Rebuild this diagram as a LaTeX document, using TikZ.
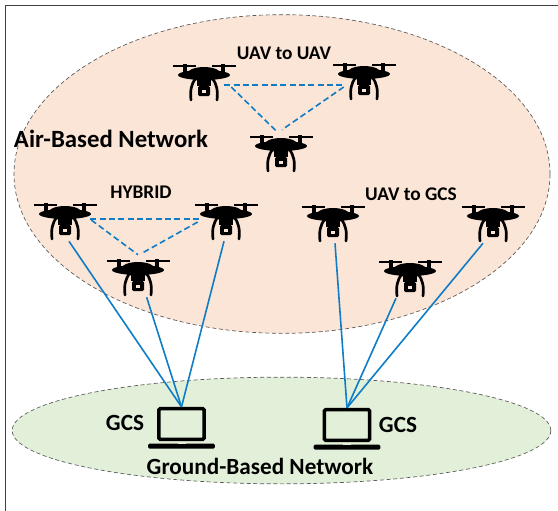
\documentclass[tikz,border=0pt]{standalone}
\usepackage{fontspec}
\setmainfont{Carlito}
\usepackage{xcolor}
\usetikzlibrary{shapes,positioning}
\definecolor{airfill}{HTML}{FBE5D6}
\definecolor{groundfill}{HTML}{E2F0D9}
\definecolor{linkblue}{HTML}{0F7DC6}
\tikzset{
  dronepic/.pic={
    \draw[line width=1.6pt] (-31,-9) -- (-8,-9) (8,-9) -- (32,-9);
    \draw[line width=2.4pt] (-19,-13) -- (-19,-2) (19,-13) -- (19,-2);
    \fill (0,0) ellipse [x radius=26, y radius=5];
    \fill (0,-1) ellipse [x radius=17, y radius=7];
    \fill (-7,0) rectangle (7,11);
    \draw[line width=2pt, line cap=round] (-8,3) .. controls (-13,9) and (-14,16) .. (-13,25);
    \draw[line width=2pt, line cap=round] (8,3) .. controls (13,9) and (14,16) .. (13,25);
    \fill[rounded corners=1pt] (-6,11) rectangle (6,21);
    \fill[airfill] (-2,14.5) rectangle (2,17.5);
  }
}
\tikzstyle{drone} = [rectangle, inner sep=0, minimum width=51pt, minimum height=28.5pt,
    path picture={\pic at ([yshift=6pt]path picture bounding box.center) {dronepic};}]
\tikzstyle{net} = [draw=black!65, ellipse, densely dashed, line width=0.5pt, inner sep=0]
\tikzstyle{screen} = [draw, rectangle, rounded corners=1pt, line width=2.7pt, inner sep=0,
    minimum width=34pt, minimum height=23pt]
\tikzstyle{lapbase} = [fill, rectangle, rounded corners=1pt, inner sep=0, minimum width=50pt, minimum height=3.8pt]
\tikzstyle{notch} = [fill=groundfill, rectangle, inner sep=0, minimum width=6pt, minimum height=1pt]
\tikzstyle{peer} = [draw=linkblue, line width=1.2pt, dash pattern=on 4.5pt off 2.5pt]
\tikzstyle{uplink} = [draw=linkblue, line width=1.2pt]
\tikzstyle{title} = [font=\fontsize{18.6}{20}\selectfont\bfseries, inner sep=0]
\tikzstyle{bigtag} = [font=\fontsize{17.4}{19}\selectfont\bfseries, inner sep=0]
\tikzstyle{tag} = [font=\fontsize{14.5}{16}\selectfont\bfseries, inner sep=0]

\begin{document}
\begin{tikzpicture}[x=0.75pt, y=-0.75pt]
	\useasboundingbox (0,0) rectangle (558,511);
	\draw[black!75, line width=0.9pt] (5.5,511) -- (5.5,5.5) -- (558,5.5);

	\node[net, fill=airfill, minimum width=402pt, minimum height=239pt] (air) at (282,174) {};
	\node[net, fill=groundfill, minimum width=404pt, minimum height=80pt] (ground) at (281.5,430.5) {};

	% air side
	\node[drone] (uavA) at (204,83) {};
	\node[drone] (uavB) at (364,82) {};
	\node[drone] (uavC) at (281,154) {};
	\node[drone] (hybA) at (65,222) {};
	\node[drone] (hybB) at (226,222) {};
	\node[drone] (hybC) at (138,278) {};
	\node[drone] (gcsA) at (333,224) {};
	\node[drone] (gcsB) at (410,279) {};
	\node[drone] (gcsC) at (493,224) {};

	% ground stations
	\node[screen] (lapL) at (181.5,424) {};
	\node[lapbase, below=1.6pt of lapL] (baseL) {};
	\node[notch] (notchL) at (baseL.north) {};
	\node[screen] (lapR) at (347,425) {};
	\node[lapbase, below=1.6pt of lapR] (baseR) {};
	\node[notch] (notchR) at (baseR.north) {};

	\draw[peer] ([shift={(-14,2)}]uavA.east) -- ([shift={(14,3)}]uavB.west);
	\draw[peer] ([shift={(-7,4)}]uavA.east) -- ([shift={(-4,-3)}]uavC.north);
	\draw[peer] ([shift={(14,5)}]uavB.west) -- ([shift={(1,-5)}]uavC.north);
	\draw[peer] ([shift={(-9,-3)}]hybA.east) -- ([shift={(9,-3)}]hybB.west);
	\draw[peer] ([shift={(-8,-2)}]hybA.east) -- ([shift={(0,-4)}]hybC.north);
	\draw[peer] ([shift={(6,0)}]hybB.west) -- ([shift={(3,-5)}]hybC.north);

	\draw[uplink] ([xshift=3pt]hybA.south) -- (lapL.north);
	\draw[uplink] ([xshift=6.5pt]hybC.south) -- (lapL.north);
	\draw[uplink] ([xshift=-1.5pt]hybB.south) -- (lapL.north);
	\draw[uplink] ([xshift=1.5pt]gcsA.south) -- (lapR.north);
	\draw[uplink] ([xshift=-10.5pt]gcsB.south) -- (lapR.north);
	\draw[uplink] ([xshift=-7.5pt]gcsC.south) -- (lapR.north);

	\node[title] (airlabel) at (111,139) {Air-Based Network};
	\node[bigtag] (groundlabel) at (260,466) {Ground-Based Network};
	\node[tag] (uavlabel) at (284,53) {UAV to UAV};
	\node[tag] (hyblabel) at (141,192) {HYBRID};
	\node[tag] (gcslabel) at (411,194) {UAV to GCS};
	\node[bigtag] (gcsL) at (125,423) {GCS};
	\node[bigtag] (gcsR) at (398,425) {GCS};
\end{tikzpicture}
\end{document}
